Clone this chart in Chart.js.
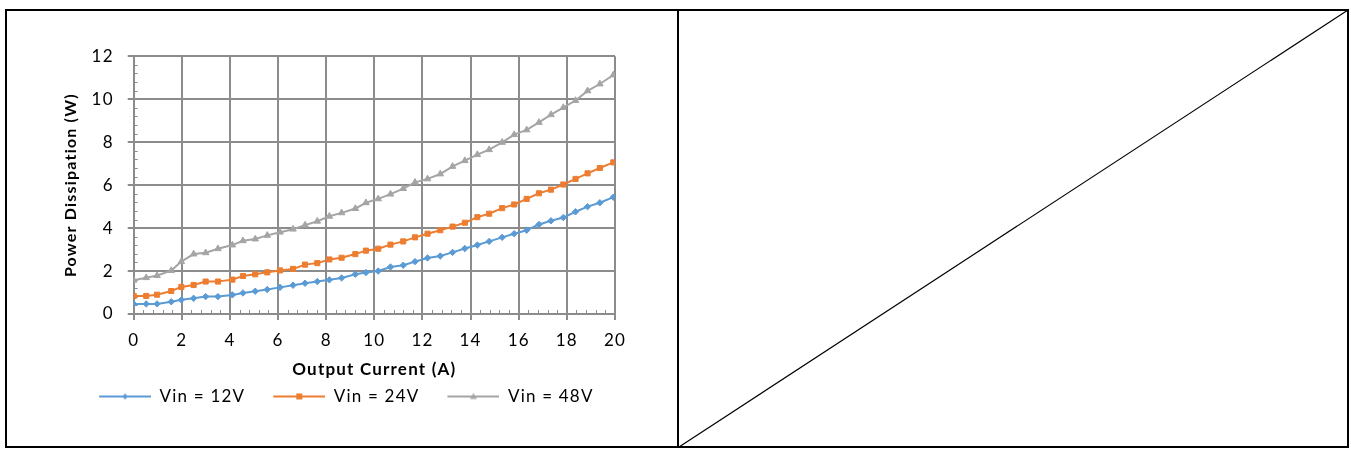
<!DOCTYPE html>
<html><head><meta charset="utf-8">
<script src="https://cdn.jsdelivr.net/npm/chart.js@4"></script>
<style>
html,body{margin:0;padding:0;background:#fff;width:1351px;height:452px;overflow:hidden;}
#frame{position:absolute;left:5px;top:9px;width:1344px;height:439px;border:2px solid #000;box-sizing:border-box;}
#divider{position:absolute;left:677px;top:9px;width:2px;height:439px;background:#000;}
#diag{position:absolute;left:0;top:0;}
#wrap{position:absolute;left:14px;top:20px;width:650px;height:410px;}
</style></head><body>
<div id="frame"></div><div id="divider"></div>
<svg id="diag" width="1351" height="452"><line x1="679" y1="447" x2="1348" y2="10" stroke="#000" stroke-width="1.2"/></svg>
<div id="wrap"><canvas id="c" width="650" height="410"></canvas></div>
<script>
// ---- data ----
const currentA = [0, 0.52, 0.97, 1.56, 1.98, 2.49, 2.99, 3.50, 4.10, 4.54, 5.05, 5.55, 6.08, 6.62,
  7.12, 7.63, 8.13, 8.64, 9.21, 9.65, 10.16, 10.67, 11.20, 11.69, 12.21, 12.74, 13.25,
  13.76, 14.28, 14.77, 15.31, 15.81, 16.33, 16.84, 17.34, 17.85, 18.36, 18.86, 19.37, 19.93];
const vin12 = [0.47, 0.47, 0.47, 0.57, 0.66, 0.73, 0.81, 0.81, 0.89, 0.98, 1.06, 1.14, 1.24, 1.34,
  1.43, 1.51, 1.59, 1.68, 1.85, 1.93, 2.00, 2.19, 2.27, 2.44, 2.61, 2.70, 2.87,
  3.05, 3.21, 3.38, 3.57, 3.74, 3.90, 4.17, 4.34, 4.49, 4.76, 5.00, 5.18, 5.44];
const vin24 = [0.84, 0.84, 0.90, 1.07, 1.26, 1.35, 1.51, 1.51, 1.60, 1.77, 1.85, 1.94, 2.03, 2.10,
  2.30, 2.37, 2.54, 2.62, 2.79, 2.95, 3.04, 3.23, 3.38, 3.57, 3.74, 3.90, 4.07,
  4.25, 4.51, 4.67, 4.93, 5.10, 5.36, 5.62, 5.79, 6.03, 6.29, 6.55, 6.80, 7.06];
const vin48 = [1.57, 1.69, 1.79, 2.02, 2.44, 2.79, 2.85, 3.04, 3.21, 3.41, 3.49, 3.66, 3.81, 3.95,
  4.14, 4.32, 4.55, 4.71, 4.91, 5.18, 5.36, 5.58, 5.84, 6.13, 6.29, 6.52, 6.87,
  7.14, 7.42, 7.65, 7.99, 8.35, 8.57, 8.92, 9.28, 9.61, 9.94, 10.39, 10.71, 11.13];
const seriesLabels = ['Vin = 12V', 'Vin = 24V', 'Vin = 48V'];
const seriesValues = [vin12, vin24, vin48];
const xTitle = 'Output Current (A)';
const yTitle = 'Power Dissipation (W)';

// ---- styles ----
const colors = ['#5B9BD5', '#ED7D31', '#A5A5A5'];
const styles = ['rectRot', 'rect', 'triangle'];
const radii = [3.2, 3.6, 3.8];
const FONT = 'Lato';
const GRID = '#8c8c8c';

function legendImage(color, style) {
  const c = document.createElement('canvas');
  c.width = 76; c.height = 12;
  const g = c.getContext('2d');
  g.strokeStyle = color; g.fillStyle = color; g.lineWidth = 2;
  g.beginPath(); g.moveTo(24, 6); g.lineTo(76, 6); g.stroke();
  const cx = 50, cy = 6;
  g.beginPath();
  if (style === 'rectRot') { g.moveTo(cx, cy - 3); g.lineTo(cx + 3, cy); g.lineTo(cx, cy + 3); g.lineTo(cx - 3, cy); }
  else if (style === 'rect') { g.rect(cx - 3, cy - 3, 6, 6); }
  else { g.moveTo(cx, cy - 3.5); g.lineTo(cx + 3.5, cy + 2.5); g.lineTo(cx - 3.5, cy + 2.5); }
  g.closePath(); g.fill();
  return c;
}
const legendImgs = colors.map((c, i) => legendImage(c, styles[i]));

const SPACING = '1.2px';
const spacing = {
  id: 'spacing',
  beforeLayout(chart) { chart.ctx.letterSpacing = SPACING; },
  beforeDraw(chart) { chart.ctx.letterSpacing = SPACING; }
};
const MINOR = 0.4;
const minorTicks = {
  id: 'minorTicks',
  beforeDatasetsDraw(chart) {
    const {ctx, chartArea: a, scales: {x, y}} = chart;
    ctx.save(); ctx.strokeStyle = GRID; ctx.lineWidth = 1; ctx.beginPath();
    for (let i = 1; i * MINOR < x.max + 1e-9; i++) {
      if (i % 5 === 0) continue;
      const px = Math.round(x.getPixelForValue(i * MINOR)) + 0.5;
      ctx.moveTo(px, a.bottom); ctx.lineTo(px, a.bottom - 4);
    }
    for (let i = 1; i * MINOR < y.max + 1e-9; i++) {
      if (i % 5 === 0) continue;
      const py = Math.round(y.getPixelForValue(i * MINOR)) + 0.5;
      ctx.moveTo(a.left, py); ctx.lineTo(a.left + 4, py);
    }
    ctx.stroke(); ctx.restore();
  }
};

new Chart(document.getElementById('c'), {
  type: 'line',
  data: {
    datasets: seriesValues.map((vals, i) => ({
      label: seriesLabels[i],
      data: vals.map((v, k) => ({x: currentA[k], y: v})),
      borderColor: colors[i], backgroundColor: colors[i],
      pointBackgroundColor: colors[i], pointBorderColor: colors[i],
      borderWidth: 2, pointStyle: styles[i], pointRadius: radii[i], pointBorderWidth: 1,
      tension: 0, fill: false
    }))
  },
  options: {
    responsive: false, animation: false,
    layout: {padding: {left: 39.7, right: 49, top: 36.3, bottom: 15}},
    scales: {
      x: {
        type: 'linear', min: 0, max: 20,
        ticks: {stepSize: 2, color: '#000', padding: 10, font: {family: FONT, size: 17}},
        grid: {color: GRID, lineWidth: 2, tickLength: 6},
        border: {color: GRID, width: 2},
        title: {display: true, text: xTitle, color: '#000', font: {family: FONT, size: 17, weight: 'bold'}, padding: {top: 0, bottom: 4}},
        afterFit: s => { s.height = 70; }
      },
      y: {
        type: 'linear', min: 0, max: 12,
        ticks: {stepSize: 2, color: '#000', padding: 14, font: {family: FONT, size: 17}},
        grid: {color: GRID, lineWidth: 2, tickLength: 6},
        border: {color: GRID, width: 2},
        title: {display: true, text: yTitle, color: '#000', font: {family: FONT, size: 16, weight: 'bold'}, padding: {top: 7.7, bottom: 0}},
        afterFit: s => { s.width = 80; }
      }
    },
    plugins: {
      tooltip: {enabled: false},
      legend: {
        position: 'bottom',
        labels: {
          usePointStyle: true, pointStyleWidth: 76, boxHeight: 12, padding: 4,
          color: '#000', font: {family: FONT, size: 17},
          generateLabels: chart => {
            const items = Chart.defaults.plugins.legend.labels.generateLabels(chart);
            items.forEach((it, i) => { it.pointStyle = legendImgs[i]; });
            return items;
          }
        }
      }
    }
  },
  plugins: [spacing, minorTicks]
});
</script>
</body></html>
